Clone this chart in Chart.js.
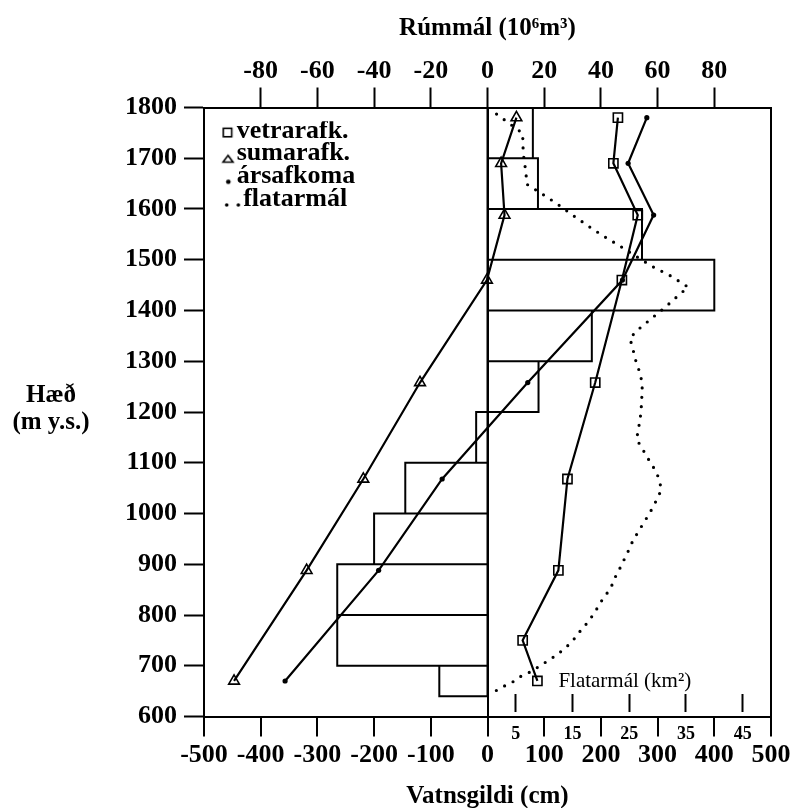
<!DOCTYPE html>
<html lang="is">
<head>
<meta charset="utf-8">
<title>Afkoma og flatarmál eftir hæð</title>
<script src="https://cdn.jsdelivr.net/npm/chart.js@4.4.1/dist/chart.umd.min.js"></script>
<style>
  html, body { margin: 0; padding: 0; background: #fff; }
  #wrap { width: 795px; height: 808px; }
  canvas { display: block; }
</style>
</head>
<body>
<div id="wrap"><canvas id="chart" width="795" height="808"></canvas></div>
<script>
// Hæð mælipunkta (m y.s.)
const ELEV_WINTER = [1780, 1690, 1588, 1460, 1258, 1068, 888, 750, 670];
const WINTER_CM   = [230, 222, 265, 237, 190, 141, 125, 62, 88];
const ELEV_YEAR   = [1780, 1690, 1588, 1460, 1258, 1068, 888, 670];
const SUMMER_CM   = [51, 24, 30, -1, -119, -219, -319, -447];
const ANNUAL_CM   = [281, 248, 293, 238, 71, -80, -192, -357];

// Rúmmál (10^6 m^3) í hverju hæðarbili
const BAND_LOW  = [640, 700, 800, 900, 1000, 1100, 1200, 1300, 1400, 1500, 1600, 1700];
const BAND_HIGH = [700, 800, 900, 1000, 1100, 1200, 1300, 1400, 1500, 1600, 1700, 1800];
const VOLUME    = [-17, -53, -53, -40, -29, -4, 18, 36.8, 80, 54.5, 17.8, 16];

// Flatarmál (km^2) eftir hæð
const AREA_ELEV = [1787, 1774, 1749, 1710, 1670, 1649, 1630, 1610, 1588, 1567, 1547, 1526,
                   1506, 1486, 1467, 1446, 1434, 1408, 1385, 1360, 1345, 1327, 1306, 1287,
                   1266, 1245, 1226, 1205, 1184, 1166, 1146, 1130, 1112, 1096, 1079, 1048,
                   1033, 1013, 997, 981, 964, 948, 930, 914, 895, 879, 862, 846, 833, 816,
                   802, 787, 772, 757, 744, 731, 719, 708, 698, 688, 680, 669, 659, 649, 640];
const AREA_KM2  = [1.6, 3.2, 6.2, 6.3, 6.8, 6.9, 9.6, 12.3, 15.0, 17.7, 20.4, 23.5,
                   26.3, 29.2, 32.5, 35.4, 34.1, 31.5, 29.0, 26.3, 25.1, 25.6, 26.0, 26.6,
                   27.1, 27.3, 27.2, 27.1, 26.9, 26.6, 26.3, 27.2, 28.1, 29.0, 29.9, 30.7,
                   30.1, 29.2, 28.4, 27.5, 26.6, 25.7, 25.0, 24.3, 23.5, 22.7, 22.1, 21.3, 20.4, 19.5,
                   18.7, 17.8, 16.6, 15.6, 14.6, 13.3, 11.9, 10.4, 9.0, 7.6, 6.0, 4.6, 2.8, 1.2, 0.9];

// Ásar
const ELEV_TICKS = [600, 700, 800, 900, 1000, 1100, 1200, 1300, 1400, 1500, 1600, 1700, 1800];
const CM_TICKS   = [-500, -400, -300, -200, -100, 0, 100, 200, 300, 400, 500];
const VOL_TICKS  = [-80, -60, -40, -20, 0, 20, 40, 60, 80];
const AREA_TICKS = [5, 15, 25, 35, 45];

const SERIF = '"Liberation Serif", "Times New Roman", serif';
const BLACK = '#000';

const pairs = (ys, xs) => ys.map((y, i) => ({ x: xs[i], y }));

// Closed outline for each volume band, separated by gaps
const volumeOutline = [];
VOLUME.forEach((v, i) => {
  const lo = BAND_LOW[i], hi = BAND_HIGH[i];
  volumeOutline.push({ x: 0, y: lo }, { x: v, y: lo }, { x: v, y: hi },
                     { x: 0, y: hi }, { x: 0, y: lo }, { x: null, y: null });
});

const setTicks = list => scale => { scale.ticks = list.map(value => ({ value })); };

// Legend symbols (drawn on small canvases, centred on the legend box)
function symbol(draw) {
  const c = document.createElement('canvas');
  c.width = 56; c.height = 26;
  const g = c.getContext('2d');
  g.strokeStyle = BLACK; g.fillStyle = BLACK; g.lineWidth = 1.6;
  draw(g);
  return c;
}
const SYM_SQUARE = symbol(g => g.strokeRect(34.1, 10.4, 8.4, 8.4));
const SYM_TRIANGLE = symbol(g => {
  g.beginPath(); g.moveTo(38.8, 14.8); g.lineTo(43.8, 21.5); g.lineTo(33.8, 21.5); g.closePath(); g.stroke();
});
const SYM_DOT = symbol(g => { g.beginPath(); g.arc(39.1, 18.5, 2.3, 0, Math.PI * 2); g.fill(); });
const SYM_DOTS = symbol(g => {
  g.beginPath(); g.arc(37.5, 19, 1.8, 0, Math.PI * 2); g.fill();
  g.beginPath(); g.arc(49.1, 19, 1.8, 0, Math.PI * 2); g.fill();
});
const LEGEND_SYMBOLS = [SYM_SQUARE, SYM_TRIANGLE, SYM_DOT, SYM_DOTS];
const LEGEND_TEXT = ['vetrarafk.', 'sumarafk.', 'ársafkoma', ' flatarmál'];

// Places the legend in the upper left corner of the plot
const legendPlacement = {
  id: 'legendPlacement',
  afterLayout(chart) {
    if (!chart.legend) return;
    chart.legend.left = chart.chartArea.left + 10;
    chart.legend.top = chart.chartArea.top + 13.7;
  }
};

// Horizontal y-axis caption and the area-axis caption
const captions = {
  id: 'captions',
  afterDraw(chart) {
    const { ctx } = chart;
    const xa = chart.scales.xArea, ys = chart.scales.y;
    ctx.save();
    ctx.fillStyle = BLACK;
    ctx.textAlign = 'center';
    ctx.textBaseline = 'alphabetic';
    ctx.font = 'bold 25px ' + SERIF;
    ctx.fillText('Hæð', 51, 402);
    ctx.fillText('(m y.s.)', 51, 429);
    ctx.textAlign = 'left';
    ctx.font = '21px ' + SERIF;
    ctx.fillText('Flatarmál (km²)', xa.getPixelForValue(12.5), ys.getPixelForValue(658));
    ctx.restore();
  }
};

const tickFont = { family: SERIF, size: 26, weight: 'bold' };

new Chart(document.getElementById('chart'), {
  type: 'scatter',
  data: {
    datasets: [
      {
        label: 'vetrarafk.', data: pairs(ELEV_WINTER, WINTER_CM), showLine: true,
        borderColor: BLACK, borderWidth: 2.2, pointStyle: 'rect', pointRadius: 6.5,
        pointBorderWidth: 1.6, pointBackgroundColor: 'rgba(0,0,0,0)', pointBorderColor: BLACK,
        xAxisID: 'x', order: 1
      },
      {
        label: 'sumarafk.', data: pairs(ELEV_YEAR, SUMMER_CM), showLine: true,
        borderColor: BLACK, borderWidth: 2.2, pointStyle: 'triangle', pointRadius: 6.2,
        pointBorderWidth: 1.6, pointBackgroundColor: 'rgba(0,0,0,0)', pointBorderColor: BLACK,
        xAxisID: 'x', order: 2
      },
      {
        label: 'ársafkoma', data: pairs(ELEV_YEAR, ANNUAL_CM), showLine: true,
        borderColor: BLACK, borderWidth: 2.2, pointStyle: 'circle', pointRadius: 2.6,
        pointBorderWidth: 0, pointBackgroundColor: BLACK,
        xAxisID: 'x', order: 3
      },
      {
        label: 'flatarmál', data: pairs(AREA_ELEV, AREA_KM2), showLine: true,
        borderColor: BLACK, borderWidth: 3.2, borderDash: [0, 9.4], borderCapStyle: 'round',
        pointRadius: 0, xAxisID: 'xArea', order: 4
      },
      {
        label: 'Rúmmál', data: volumeOutline, showLine: true, spanGaps: false,
        borderColor: BLACK, borderWidth: 2, borderJoinStyle: 'miter', borderCapStyle: 'square',
        pointRadius: 0, xAxisID: 'xVol', order: 10
      }
    ]
  },
  options: {
    responsive: false,
    animation: false,
    events: [],
    layout: { padding: { left: 0, right: 24, top: 0, bottom: 0 } },
    plugins: {
      tooltip: { enabled: false },
      legend: {
        position: 'chartArea',
        align: 'start',
        labels: {
          usePointStyle: true,
          boxWidth: 13,
          boxHeight: 10,
          padding: -3.3,
          textAlign: 'left',
          color: BLACK,
          font: { family: SERIF, size: 26, weight: 'bold' },
          generateLabels: () => LEGEND_TEXT.map((text, i) => ({
            text, datasetIndex: i, pointStyle: LEGEND_SYMBOLS[i], hidden: false,
            fillStyle: BLACK, strokeStyle: BLACK, lineWidth: 0, fontColor: BLACK
          }))
        }
      }
    },
    scales: {
      y: {
        type: 'linear', position: 'left', min: 600, max: 1800,
        afterBuildTicks: setTicks(ELEV_TICKS),
        afterFit: s => { s.width = 204; },
        border: { display: true, color: BLACK, width: 2 },
        grid: { drawOnChartArea: false, tickLength: 20, tickColor: BLACK, tickWidth: 2 },
        ticks: { font: tickFont, color: BLACK, padding: 7, callback: v => String(v) }
      },
      x: {
        type: 'linear', position: 'bottom', min: -500, max: 500,
        afterBuildTicks: setTicks(CM_TICKS),
        afterFit: s => { s.height = 91.5; },
        border: { display: true, color: BLACK, width: 2 },
        grid: {
          drawOnChartArea: true, tickLength: 20, tickColor: BLACK, tickWidth: 2, lineWidth: 2,
          color: c => (c.tick && (c.tick.value === 0 || c.tick.value === 500)) ? BLACK : 'rgba(0,0,0,0)'
        },
        ticks: { font: tickFont, color: BLACK, padding: 3.5, maxRotation: 0, autoSkip: false, callback: v => String(v) },
        title: {
          display: true, text: 'Vatnsgildi (cm)', color: BLACK,
          font: { family: SERIF, size: 25, weight: 'bold', lineHeight: 0.9 }, padding: 0
        }
      },
      xVol: {
        type: 'linear', axis: 'x', position: 'top', min: -100, max: 100,
        afterBuildTicks: setTicks(VOL_TICKS),
        afterFit: s => { s.height = 107.5; },
        border: { display: true, color: BLACK, width: 2 },
        grid: { drawOnChartArea: false, tickLength: 20, tickColor: BLACK, tickWidth: 2 },
        ticks: { font: tickFont, color: BLACK, padding: 1, maxRotation: 0, autoSkip: false, callback: v => String(v) },
        title: {
          display: true, text: 'Rúmmál (10⁶m³)', color: BLACK,
          font: { family: SERIF, size: 25, weight: 'bold' }, padding: { top: 14, bottom: 0 }
        }
      },
      xArea: {
        type: 'linear', axis: 'x', position: { y: 608 }, min: -50, max: 50,
        afterBuildTicks: setTicks(AREA_TICKS),
        border: { display: false },
        grid: { drawOnChartArea: false, drawTicks: true, tickLength: -18, tickColor: BLACK, tickWidth: 2 },
        ticks: {
          font: { family: SERIF, size: 18, weight: 'bold' }, color: BLACK, padding: 28.8,
          maxRotation: 0, autoSkip: false, callback: v => String(v)
        }
      }
    }
  },
  plugins: [legendPlacement, captions]
});
</script>
</body>
</html>
